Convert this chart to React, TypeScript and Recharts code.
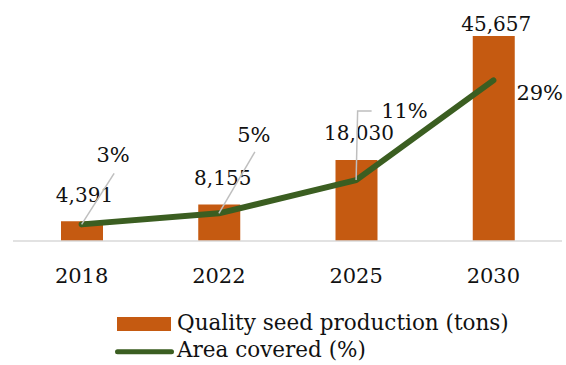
import React from "react";
import { ComposedChart, Bar, Line, XAxis, YAxis, Legend, LabelList } from "recharts";

const years = ["2018", "2022", "2025", "2030"];
const seedTons = [4391, 8155, 18030, 45657];
const areaPct = [3, 5, 11, 29];
const seedLabels = ["4,391", "8,155", "18,030", "45,657"];
const pctLabels = ["3%", "5%", "11%", "29%"];
const seriesNames = ["Quality seed production (tons)", "Area covered (%)"];

const data = years.map((y, i) => ({ year: y, seed: seedTons[i], area: areaPct[i] }));

const FONT = "'DejaVu Serif', serif";
const BAR_COLOR = "#C55A11";
const LINE_COLOR = "#3B5E21";
const LEADER = "#BFBFBF";

// label placement (relative to marks)
const seedLabelShift = [
  { dx: 2.5, dy: -19 },
  { dx: 3.5, dy: -19 },
  { dx: 2.5, dy: -20.5 },
  { dx: 2.5, dy: -5 },
];
const pctLabelShift = [
  { dx: 31.5, dy: -62, anchor: "middle", leader: [[0, 0], [32.5, -51]] },
  { dx: 35, dy: -71.5, anchor: "middle", leader: [[0, 0], [36, -61.5]] },
  { dx: 25, dy: -62, anchor: "start", leader: [[0, 0], [1.5, -69], [15.5, -69]] },
  { dx: 23, dy: 19.7, anchor: "start", leader: null },
];

const SeedLabel = (props: any) => {
  const { x, y, width, index } = props;
  const s = seedLabelShift[index];
  return (
    <text x={x + width / 2 + s.dx} y={y + s.dy} textAnchor="middle" fontFamily={FONT} fontSize={20} fill="#111">
      {seedLabels[index]}
    </text>
  );
};

const PctLabel = (props: any) => {
  const { x, y, index } = props;
  const s = pctLabelShift[index];
  return (
    <g>
      {s.leader && (
        <polyline
          points={s.leader.map((p: number[]) => `${x + p[0]},${y + p[1]}`).join(" ")}
          fill="none"
          stroke={LEADER}
          strokeWidth={1.5}
        />
      )}
      <text x={x + s.dx} y={y + s.dy} textAnchor={s.anchor} fontFamily={FONT} fontSize={21} fill="#111">
        {pctLabels[index]}
      </text>
    </g>
  );
};

const YearTick = (props: any) => {
  const { x, y, payload } = props;
  return (
    <text x={x} y={y + 42} textAnchor="middle" fontFamily={FONT} fontSize={21} fill="#111">
      {payload.value}
    </text>
  );
};

const LegendContent = () => {
  const items = [
    { value: seriesNames[0], type: "rect", color: BAR_COLOR },
    { value: seriesNames[1], type: "line", color: LINE_COLOR },
  ];
  return (
    <svg width={440} height={56} style={{ display: "block" }}>
      {items.map((it, i) => {
        const y0 = i * 26.7;
        const isLine = it.type === "line";
        return (
          <g key={i}>
            {isLine ? (
              <line x1={2.5} x2={56.5} y1={y0 + 17} y2={y0 + 17} stroke={it.color} strokeWidth={5} strokeLinecap="round" />
            ) : (
              <rect x={2} y={y0 + 9} width={54} height={14} fill={it.color} />
            )}
            <text x={62} y={y0 + 22} fontFamily={FONT} fontSize={21.5} fill="#111">
              {it.value}
            </text>
          </g>
        );
      })}
    </svg>
  );
};

export default function App() {
  return (
    <div style={{ position: "absolute", left: 0, top: 0, width: 566, height: 365, background: "#fff" }}>
      <ComposedChart width={566} height={365} data={data} margin={{ top: 36, right: 4, left: 13, bottom: 94 }}>
        <XAxis
          dataKey="year"
          height={30}
          tickLine={false}
          tickSize={0}
          tickMargin={0}
          axisLine={{ stroke: "#D9D9D9", strokeWidth: 1.5 }}
          tick={<YearTick />}
        />
        <YAxis yAxisId="seed" hide domain={[0, 45657]} />
        <YAxis yAxisId="pct" hide orientation="right" domain={[0, 37]} />
        <Legend
          layout="vertical"
          align="center"
          verticalAlign="middle"
          wrapperStyle={{ left: 115, top: 308, width: 440, height: 56 }}
          content={<LegendContent />}
        />
        <Bar yAxisId="seed" dataKey="seed" name={seriesNames[0]} fill={BAR_COLOR} barSize={42} isAnimationActive={false}>
          <LabelList dataKey="seed" content={<SeedLabel />} />
        </Bar>
        <Line
          yAxisId="pct"
          dataKey="area"
          name={seriesNames[1]}
          stroke={LINE_COLOR}
          strokeWidth={6}
          strokeLinecap="round"
          strokeLinejoin="round"
          dot={false}
          activeDot={false}
          isAnimationActive={false}
        >
          <LabelList dataKey="area" content={<PctLabel />} />
        </Line>
      </ComposedChart>
    </div>
  );
}
